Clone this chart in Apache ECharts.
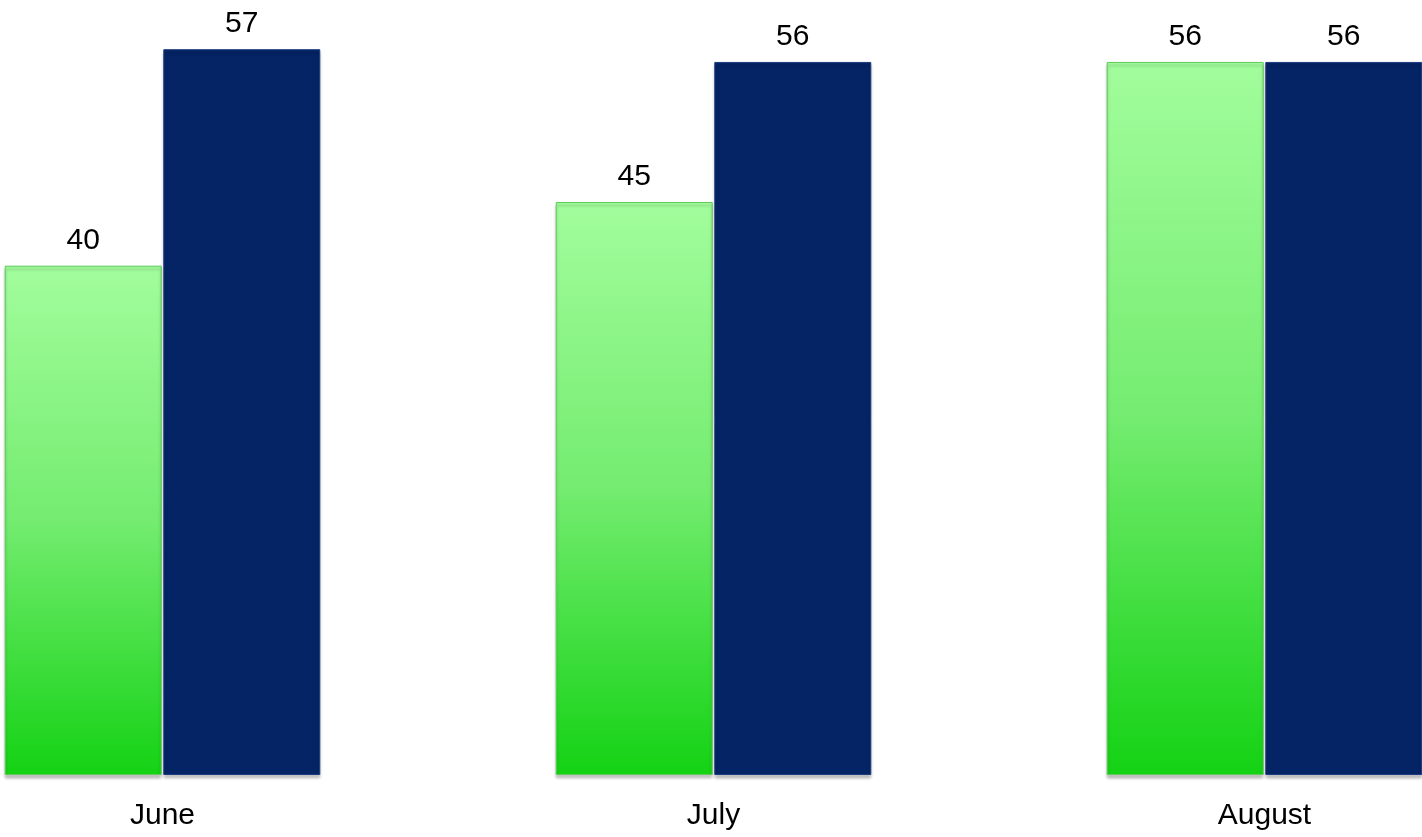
<!DOCTYPE html>
<html>
<head>
<meta charset="utf-8">
<script src="https://cdn.jsdelivr.net/npm/echarts@6/dist/echarts.min.js"></script>
<style>
html,body{margin:0;padding:0;background:#fff;overflow:hidden;width:1422px;height:837px;position:relative;}
#chart{position:absolute;left:-113px;top:0;width:1653px;height:837px;}
</style>
</head>
<body>
<div id="chart"></div>
<script>
const categories = ['June', 'July', 'August'];
const seriesGreen = [40, 45, 56];
const seriesNavy = [57, 56, 56];

const chart = echarts.init(document.getElementById('chart'));
const labelStyle = {
  show: true,
  position: 'top',
  distance: 10,
  color: '#000',
  fontSize: 30,
  fontFamily: 'Liberation Sans, Arial, sans-serif'
};
chart.setOption({
  animation: false,
  grid: { left: 0, right: 0, top: 11, bottom: 62, containLabel: false },
  xAxis: {
    type: 'category',
    data: categories,
    axisLine: { show: false },
    axisTick: { show: false },
    axisLabel: {
      margin: 26,
      color: '#000',
      fontSize: 30,
      fontFamily: 'Liberation Sans, Arial, sans-serif'
    }
  },
  yAxis: {
    type: 'value',
    min: 0,
    max: 60,
    show: false,
    splitLine: { show: false }
  },
  series: [
    {
      type: 'bar',
      data: seriesGreen,
      barWidth: 157,
      barGap: '1%',
      label: labelStyle,
      itemStyle: {
        color: new echarts.graphic.LinearGradient(0, 0, 0, 1, [
          { offset: 0, color: '#a2fd9c' },
          { offset: 0.5, color: '#74ec70' },
          { offset: 1, color: '#14d214' }
        ]),
        borderColor: '#5fc95a',
        borderWidth: 1,
        shadowColor: 'rgba(0,0,0,0.25)',
        shadowBlur: 3,
        shadowOffsetY: 3
      }
    },
    {
      type: 'bar',
      data: seriesNavy,
      barWidth: 157,
      label: labelStyle,
      itemStyle: {
        color: '#052465',
        borderColor: '#1c3c80',
        borderWidth: 1,
        shadowColor: 'rgba(0,0,0,0.25)',
        shadowBlur: 3,
        shadowOffsetY: 3
      }
    }
  ]
});
</script>
</body>
</html>
